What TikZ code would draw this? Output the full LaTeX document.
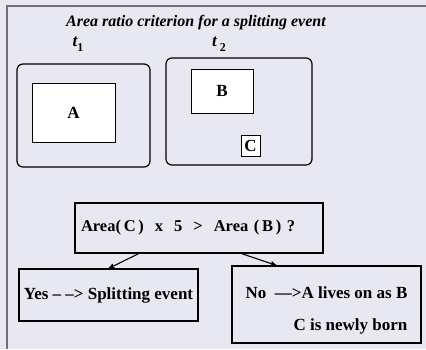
\documentclass[tikz,border=0pt]{standalone}
\usepackage{fontspec}
\setmainfont{Liberation Serif}
\usetikzlibrary{arrows}
\definecolor{panelbg}{RGB}{232,232,242}
\definecolor{framegray}{RGB}{112,112,112}

\begin{document}
\begin{tikzpicture}[x=1pt,y=-1pt,>=stealth',
                    every node/.style={font=\fontsize{17}{20}\selectfont\bfseries},
                    time box/.style={draw,rounded corners=6pt,line width=1.2pt,inner sep=0pt},
                    blob box/.style={draw,fill=white,line width=1pt,inner sep=0pt},
                    test box/.style={draw,line width=1.1pt,inner sep=0pt}]
  \path[fill=panelbg,use as bounding box] (0,0) rectangle (426,349);
  \draw[framegray,line width=1.8pt] (7,349) -- (7,6) -- (426,6);
  \node (title) at (196,23) {\fontsize{16}{19}\selectfont\bfseries\itshape Area ratio criterion for a splitting event};
  \node (t1) at (78,44) {\itshape t\raisebox{-0.6ex}{\upshape\fontsize{12}{13}\selectfont 1}};
  \node (t2) at (219,44) {\itshape t\,\raisebox{-0.6ex}{\upshape\fontsize{12}{13}\selectfont 2}};
  \node[time box,minimum width=133pt,minimum height=103pt] (frame1) at (83.5,115.5) {};
  \node[time box,minimum width=146pt,minimum height=107pt] (frame2) at (239,111.5) {};
  \node[blob box,minimum width=83pt,minimum height=59pt] (A) at (73.5,112.5) {A};
  \node[blob box,minimum width=62pt,minimum height=44pt] (B) at (222,91) {B};
  \node[blob box,minimum width=19pt,minimum height=21pt] (C) at (250.5,145.5) {C};
  \node[test box,minimum width=248pt,minimum height=50pt,text width=236pt,align=left,
        font=\fontsize{16.5}{20}\selectfont\bfseries] (test) at (199,228)
    {Area(\,C\,)~~x~~5~~>~~Area (\,B\,) ?};
  \node[test box,minimum width=179pt,minimum height=52pt] (yes) at (108.5,295)
    {Yes -- --> Splitting event};
  \node[test box,minimum width=189pt,minimum height=77pt,align=right] (no) at (326.5,304.5)
    {\rule{0pt}{24pt}No~~--{}-->A lives on as B\\[12pt] C is newly born};
  \path[line width=1.1pt]
    (test.203) edge [->] (yes.north)
    (test.329) edge [->] (no.142)
    ;
\end{tikzpicture}
\end{document}
